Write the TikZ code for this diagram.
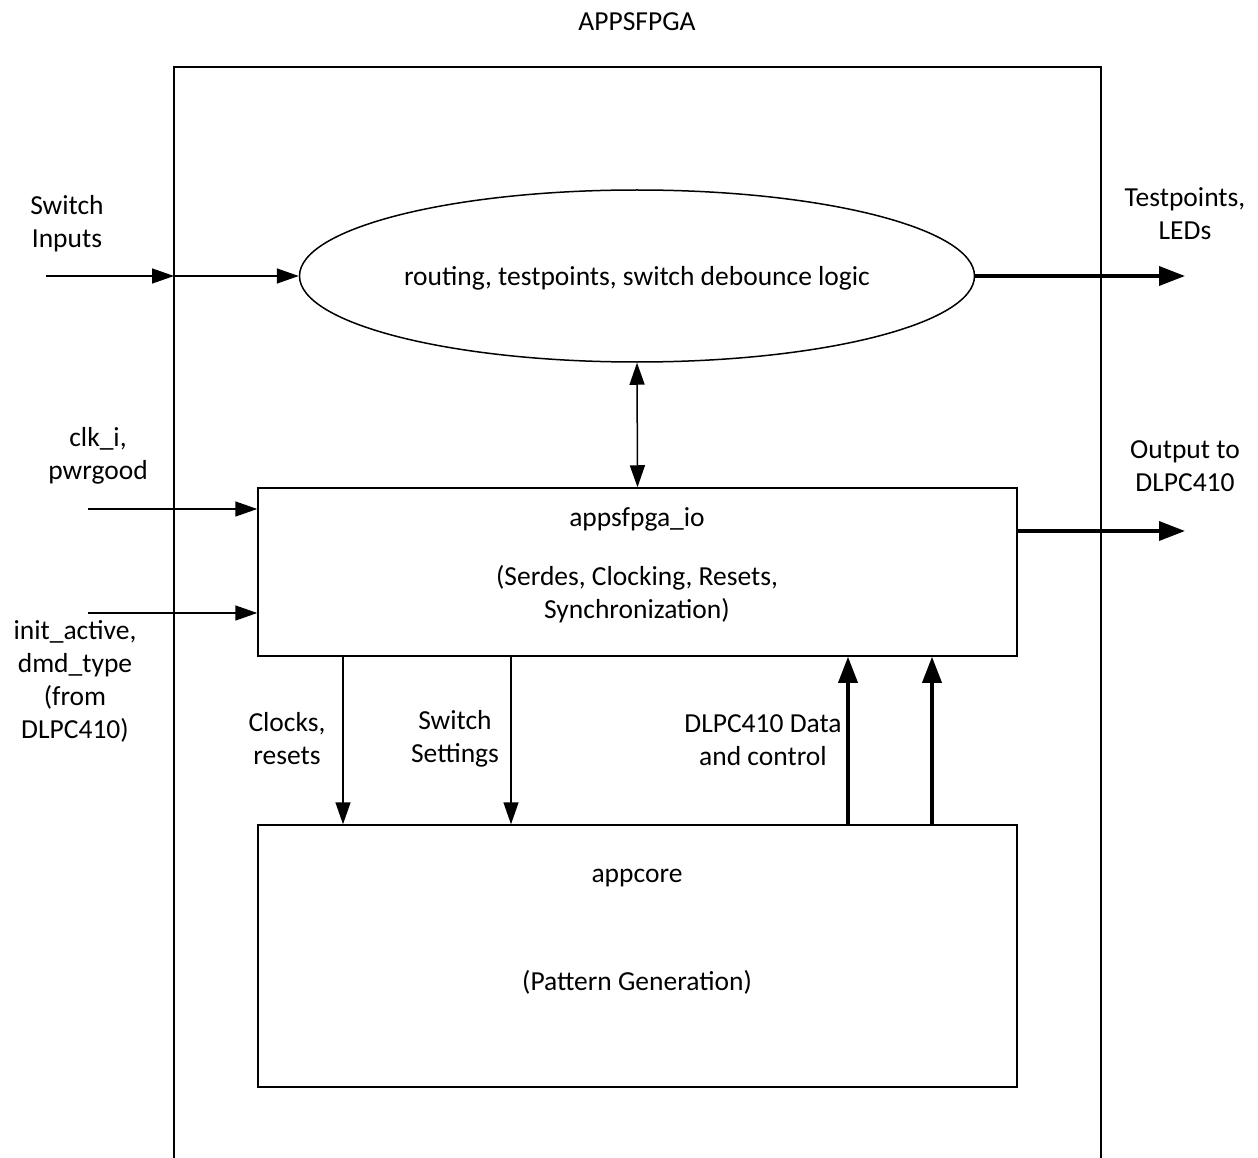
\documentclass[tikz,border=0pt]{standalone}
\usepackage{fontspec}
\setmainfont{Carlito}
\usetikzlibrary{arrows.meta,shapes.geometric}
\begin{document}
\begin{tikzpicture}[x=1pt,y=-1pt,
  every node/.style={font=\fontsize{27.5}{33}\selectfont, align=center},
  thin/.style={line width=1.5pt},
  thick/.style={line width=3.5pt},
  arr/.style={thin,-{Triangle[length=22pt,width=15pt]}},
  tarr/.style={thick,-{Triangle[length=26pt,width=19pt]}},
  darr/.style={thin,{Triangle[length=22pt,width=15pt]}-{Triangle[length=22pt,width=15pt]}},
  blk/.style={draw,thin,rectangle,inner sep=0pt}]
\useasboundingbox (0,0) rectangle (1258,1158);
\fill[white] (0,0) rectangle (1258,1158);
% frame
\coordinate (fl) at (174,67);
\coordinate (fr) at (1101,67);
\draw[thin] (174,1175) -- (fl) -- (fr) -- (1101,1175);
\node (title) at (637,22) {APPSFPGA};
% blocks
\node[draw,thin,ellipse,minimum width=675pt,minimum height=172pt,inner sep=0pt] (logic) at (637,276) {};
\node at (637,278) {routing, testpoints, switch debounce logic};
\node[blk,minimum width=759pt,minimum height=168pt] (io) at (637.5,572) {};
\node (iot) at (637,519) {appsfpga\_io};
\node (iod) at (637,594) {(Serdes, Clocking, Resets,\\Synchronization)};
\node[blk,minimum width=759pt,minimum height=262pt] (core) at (637.5,956) {};
\node (coret) at (637,878) {appcore};
\node (cored) at (637,982) {(Pattern Generation)};
% inputs
\coordinate (si) at (46,276);
\coordinate (ci) at (88,509);
\coordinate (ii) at (88,613);
\draw[arr] (si) -- (si -| fl);
\draw[arr] (si -| fl) -- (logic.west);
\draw[arr] (ci) -- (ci -| io.west);
\draw[arr] (ii) -- (ii -| io.west);
\node at (67,224) {Switch\\Inputs};
\node at (98,456) {clk\_i,\\pwrgood};
\node at (75,681) {init\_active,\\dmd\_type\\(from\\DLPC410)};
% outputs
\coordinate (to) at (1185,276);
\coordinate (oo) at (1185,531);
\draw[tarr] (logic.east) -- (to);
\draw[tarr] (oo -| io.east) -- (oo);
\node at (1185,214) {Testpoints,\\LEDs};
\node at (1185,466) {Output to\\DLPC410};
% internal
\draw[darr] (logic.south) -- (io.north);
\coordinate (d1) at (343,700);
\coordinate (d2) at (511,700);
\coordinate (u1) at (848,700);
\coordinate (u2) at (932,700);
\draw[arr] (io.south -| d1) -- (core.north -| d1);
\draw[arr] (io.south -| d2) -- (core.north -| d2);
\draw[tarr] (core.north -| u1) -- (io.south -| u1);
\draw[tarr] (core.north -| u2) -- (io.south -| u2);
\node at (287,739) {Clocks,\\resets};
\node at (455,739) {Switch\\Settings};
\node at (763,740) {DLPC410 Data\\and control};
\end{tikzpicture}
\end{document}
